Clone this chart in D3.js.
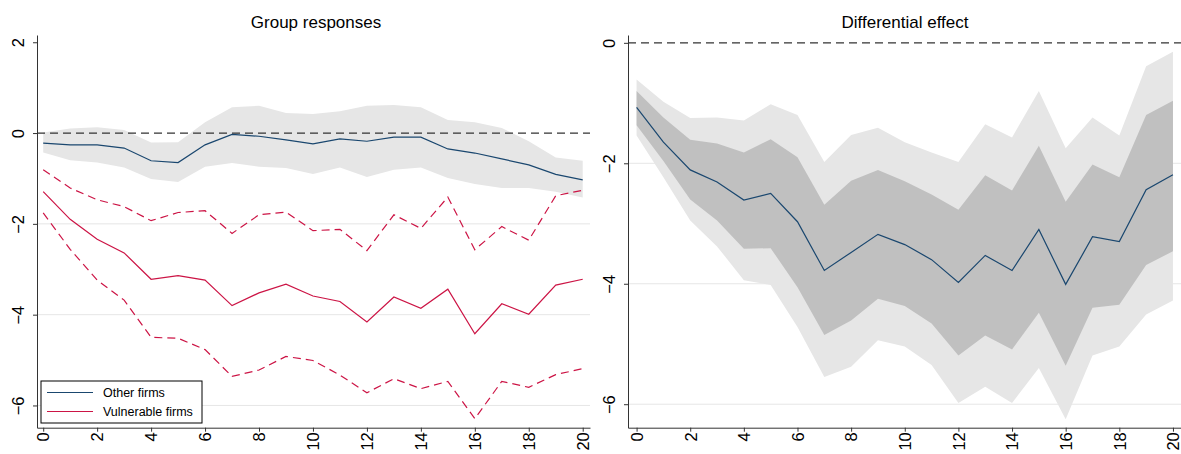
<html>
<head>
  <meta charset="UTF-8">
  <script src="https://d3js.org/d3.v7.min.js"></script>
  <style>
    body { margin: 0; background: #fff; }
    svg { font-family: "Liberation Sans", Arial, sans-serif; }
    .axis path, .axis line { stroke: #333; stroke-width: 1; }
    .axis text { fill: #000; font-size: 16.5px; }
  </style>
</head>
<body>
  <div id="chart"></div>
  <script type="text/javascript">
    // horizons 0..20
    var horizons = d3.range(0, 21);
    var xTicks = [0, 2, 4, 6, 8, 10, 12, 14, 16, 18, 20];
    var leftYTicks = [2, 0, -2, -4, -6];
    var rightYTicks = [0, -2, -4, -6];

    // left panel: group responses
    var otherMean = [-0.22, -0.26, -0.26, -0.33, -0.61, -0.65, -0.26, -0.03, -0.07, -0.15, -0.24,
                     -0.13, -0.18, -0.09, -0.09, -0.35, -0.44, -0.57, -0.70, -0.91, -1.03];
    var otherUpper = [0.01, 0.10, 0.13, 0.07, -0.21, -0.20, 0.24, 0.57, 0.60, 0.44, 0.42,
                      0.48, 0.60, 0.62, 0.57, 0.29, 0.24, 0.11, -0.18, -0.54, -0.61];
    var otherLower = [-0.43, -0.60, -0.65, -0.76, -1.01, -1.08, -0.74, -0.66, -0.74, -0.77, -0.90,
                      -0.76, -0.97, -0.81, -0.76, -0.99, -1.12, -1.21, -1.21, -1.29, -1.42];
    var vulnMean = [-1.29, -1.90, -2.34, -2.64, -3.22, -3.14, -3.24, -3.80, -3.52, -3.33, -3.59,
                    -3.71, -4.16, -3.61, -3.86, -3.44, -4.42, -3.76, -3.99, -3.35, -3.22];
    var vulnUpper = [-0.81, -1.21, -1.47, -1.62, -1.93, -1.75, -1.71, -2.21, -1.80, -1.74, -2.15,
                     -2.12, -2.59, -1.80, -2.10, -1.41, -2.57, -2.06, -2.36, -1.38, -1.26];
    var vulnLower = [-1.76, -2.56, -3.24, -3.68, -4.50, -4.52, -4.77, -5.36, -5.22, -4.92, -5.01,
                     -5.33, -5.72, -5.41, -5.63, -5.47, -6.29, -5.47, -5.60, -5.32, -5.19];

    // right panel: differential effect
    var diffMean = [-1.07, -1.65, -2.11, -2.31, -2.61, -2.50, -2.97, -3.78, -3.48, -3.18, -3.35,
                    -3.60, -3.98, -3.53, -3.78, -3.10, -4.01, -3.22, -3.30, -2.44, -2.19];
    var diffInnerUpper = [-0.80, -1.24, -1.61, -1.67, -1.82, -1.60, -1.90, -2.69, -2.29, -2.11, -2.30,
                          -2.52, -2.77, -2.20, -2.45, -1.71, -2.64, -2.02, -2.23, -1.20, -0.96];
    var diffInnerLower = [-1.37, -1.96, -2.60, -2.95, -3.42, -3.41, -4.06, -4.85, -4.61, -4.25, -4.37,
                          -4.66, -5.19, -4.86, -5.09, -4.48, -5.36, -4.40, -4.35, -3.69, -3.46];
    var diffOuterUpper = [-0.61, -0.98, -1.25, -1.24, -1.29, -1.02, -1.20, -1.98, -1.53, -1.41, -1.65,
                          -1.82, -1.98, -1.35, -1.57, -0.80, -1.75, -1.24, -1.54, -0.39, -0.15];
    var diffOuterLower = [-1.54, -2.23, -2.95, -3.38, -3.94, -4.02, -4.72, -5.55, -5.38, -4.94, -5.04,
                          -5.35, -5.98, -5.71, -5.98, -5.40, -6.25, -5.19, -5.04, -4.51, -4.28];

    var navy = "#1a476f", red = "#cc1445";
    var fmt = d3.format("d");

    var svg = d3.select("#chart").append("svg")
      .attr("width", 1181).attr("height", 454);

    function panel(opts) {
      var x = d3.scaleLinear().domain(opts.xDomain).range([opts.left, opts.right]);
      var y = d3.scaleLinear().domain(opts.yDomain).range([427.7, 35]);
      var g = svg.append("g");

      // grid
      g.selectAll(".grid").data(opts.yTicks.filter(function(d) { return d < 0; }))
        .enter().append("line")
        .attr("x1", opts.left).attr("x2", opts.right)
        .attr("y1", function(d) { return y(d); }).attr("y2", function(d) { return y(d); })
        .attr("stroke", "#e6e6e6").attr("stroke-width", 1);

      opts.bands.forEach(function(b) {
        var area = d3.area()
          .x(function(d, i) { return x(horizons[i]); })
          .y0(function(d, i) { return y(b.lower[i]); })
          .y1(function(d, i) { return y(b.upper[i]); });
        g.append("path").datum(b.upper).attr("d", area).attr("fill", b.fill);
      });

      g.append("line")
        .attr("x1", opts.left).attr("x2", opts.right)
        .attr("y1", y(0)).attr("y2", y(0))
        .attr("stroke", "#333").attr("stroke-width", 1.3)
        .attr("stroke-dasharray", "8,5");

      opts.lines.forEach(function(l) {
        var line = d3.line()
          .x(function(d, i) { return x(horizons[i]); })
          .y(function(d) { return y(d); });
        g.append("path").datum(l.values).attr("d", line)
          .attr("fill", "none").attr("stroke", l.color).attr("stroke-width", 1.2)
          .attr("stroke-dasharray", l.dash || null);
      });

      var xAxis = g.append("g").attr("class", "axis")
        .attr("transform", "translate(0,427.7)")
        .call(d3.axisBottom(x).tickValues(xTicks).tickFormat(fmt)
          .tickSize(4).tickSizeOuter(0).tickPadding(0));
      xAxis.selectAll("text")
        .attr("transform", "rotate(-90)")
        .attr("x", -4.5).attr("y", 0).attr("dy", "0.35em")
        .style("text-anchor", "end");

      var yAxis = g.append("g").attr("class", "axis")
        .attr("transform", "translate(" + opts.left + ",0)")
        .call(d3.axisLeft(y).tickValues(opts.yTicks).tickFormat(fmt)
          .tickSize(4).tickSizeOuter(0));
      yAxis.selectAll("text")
        .attr("transform", "rotate(-90)")
        .attr("x", 0).attr("y", -18.5).attr("dy", "0.35em")
        .style("text-anchor", "middle");

      svg.append("text")
        .attr("x", opts.titleX).attr("y", 27.5)
        .attr("text-anchor", "middle")
        .style("font-size", "17px")
        .text(opts.title);
    }

    panel({
      title: "Group responses", titleX: 316,
      left: 37, right: 590, xDomain: [-0.23, 20.27], yDomain: [-6.49, 2.16],
      yTicks: leftYTicks,
      bands: [{ upper: otherUpper, lower: otherLower, fill: "#e6e6e6" }],
      lines: [
        { values: otherMean, color: navy },
        { values: vulnMean, color: red },
        { values: vulnUpper, color: red, dash: "8,5" },
        { values: vulnLower, color: red, dash: "8,5" }
      ]
    });

    panel({
      title: "Differential effect", titleX: 905,
      left: 628, right: 1181, xDomain: [-0.32, 20.3], yDomain: [-6.39, 0.13],
      yTicks: rightYTicks,
      bands: [
        { upper: diffOuterUpper, lower: diffOuterLower, fill: "#e6e6e6" },
        { upper: diffInnerUpper, lower: diffInnerLower, fill: "#c0c0c0" }
      ],
      lines: [{ values: diffMean, color: navy }]
    });

    // legend
    var legendItems = ["Other firms", "Vulnerable firms"];
    var legendColors = [navy, red];
    var lg = svg.append("g");
    lg.append("rect").attr("x", 41).attr("y", 381).attr("width", 161).attr("height", 42)
      .attr("fill", "#fff").attr("stroke", "#000").attr("stroke-width", 1);
    lg.selectAll(".item").data(legendItems).enter().append("g")
      .each(function(d, i) {
        var yy = 392.5 + i * 19;
        d3.select(this).append("line")
          .attr("x1", 47).attr("x2", 93).attr("y1", yy).attr("y2", yy)
          .attr("stroke", legendColors[i]).attr("stroke-width", 1.2);
        d3.select(this).append("text")
          .attr("x", 103).attr("y", yy).attr("dy", "0.35em")
          .style("font-size", "12.5px")
          .text(d);
      });
  </script>
</body>
</html>
